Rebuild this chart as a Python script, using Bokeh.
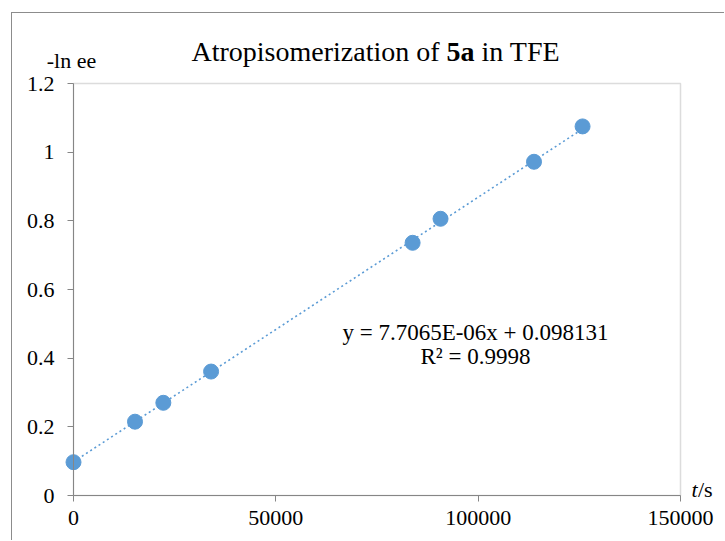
from bokeh.plotting import figure
from bokeh.models import Label, FixedTicker, CustomJSTickFormatter, Range1d, BoxAnnotation
from bokeh.embed import file_html
from bokeh.resources import INLINE

# ---- data ----
t_s = [0, 15200, 22200, 34000, 83800, 90700, 113800, 125800]
neg_ln_ee = [0.097, 0.215, 0.270, 0.361, 0.736, 0.806, 0.972, 1.075]
trend_slope = 7.7065e-06
trend_intercept = 0.098131
r_squared = 0.9998
x_ticks = [0, 50000, 100000, 150000]
y_ticks = [0, 0.2, 0.4, 0.6, 0.8, 1.0, 1.2]
x_lim = (0, 150000)
y_lim = (0, 1.2)

BLUE = "#5B9BD5"
GRAY = "#8c8c8c"
AXIS_GRAY = "#868686"
FONT = "Liberation Serif"
LFONT = "'Liberation Serif', serif"

# ---- layout geometry (page pixels) ----
OX, OY = 12, 13                          # page offset of the canvas
W, H = 725 - OX, 541 - OY
PL, PR, PT, PB = 73, 680, 83, 495        # plot-area edges on the page
sx = (x_lim[1] - x_lim[0]) / (PR - PL)
sy = (y_lim[1] - y_lim[0]) / (PB - PT)
xr = Range1d(x_lim[0] - (PL - OX) * sx, x_lim[1] + (OX + W - PR) * sx)
yr = Range1d(y_lim[0] - (OY + H - PB) * sy, y_lim[1] + (PT - OY) * sy)

p = figure(width=W, height=H, output_backend="svg", toolbar_location=None,
           x_range=xr, y_range=yr, min_border=0)
p.styles = {"margin-left": f"{OX - 1}px", "margin-top": f"{OY - 1}px",
            "border-left": "1px solid " + GRAY, "border-top": "1px solid " + GRAY}
p.background_fill_color = "white"
p.border_fill_color = "white"
p.outline_line_color = None
p.title.visible = False
for g in p.grid:
    g.visible = False

# plot-area frame (top / right edges)
p.add_layout(BoxAnnotation(left=x_lim[0], right=x_lim[1], bottom=y_lim[0], top=y_lim[1],
                           fill_alpha=0, line_color=GRAY, line_width=1.5, level="underlay"))

fmt = CustomJSTickFormatter(code="return String(tick);")
for ax, ticks, lim, loc in ((p.xaxis[0], x_ticks, x_lim, y_lim[0]), (p.yaxis[0], y_ticks, y_lim, x_lim[0])):
    ax.fixed_location = loc
    ax.bounds = lim
    ax.ticker = FixedTicker(ticks=ticks)
    ax.formatter = fmt
    ax.minor_tick_line_color = None
    ax.major_tick_in = 0
    ax.major_tick_out = 6
    ax.axis_line_color = AXIS_GRAY
    ax.major_tick_line_color = AXIS_GRAY
    ax.major_label_text_font = FONT
    ax.major_label_text_font_size = "22px"
    ax.major_label_text_color = "black"
p.yaxis[0].major_label_standoff = 13
p.xaxis[0].major_label_standoff = 9

# trendline from the fitted equation, across the data range
tx = [min(t_s), max(t_s)]
ty = [trend_slope * v + trend_intercept for v in tx]
p.line(tx, ty, line_color=BLUE, line_width=1.6, line_dash="2 3")
p.scatter(t_s, neg_ln_ee, size=15, fill_color=BLUE, line_color=BLUE)

DY = -9  # baseline correction

def lab(text, px, py, size, align="left", style="normal"):
    p.add_layout(Label(x=px - OX, y=py - OY + DY, x_units="canvas", y_units="canvas",
                       text=text, text_font=LFONT, text_font_size=size,
                       text_align=align, text_baseline="alphabetic",
                       text_font_style=style, text_color="black"))

# title with bold compound number (advance widths in em, Times metrics)
ts = 28
tx0 = 190
lab("Atropisomerization of", tx0, 59, f"{ts}px")
lab("5a", tx0 + 9.11 * ts, 59, f"{ts}px", style="bold")
lab("in TFE", tx0 + 10.36 * ts, 59, f"{ts}px")

# axis titles
lab("-ln ee", 70, 68, "22px", align="center")
lab("t", 690, 497, "22px", style="italic")
lab("/s", 696.5, 497, "22px")

# trendline equation
lab(f"y = {trend_slope:.4E}x + {trend_intercept}", 474, 340, "23px", align="center")
lab(f"R\u00b2 = {r_squared}", 474, 364, "23px", align="center")

open("out.html", "w").write(file_html(p, INLINE))
